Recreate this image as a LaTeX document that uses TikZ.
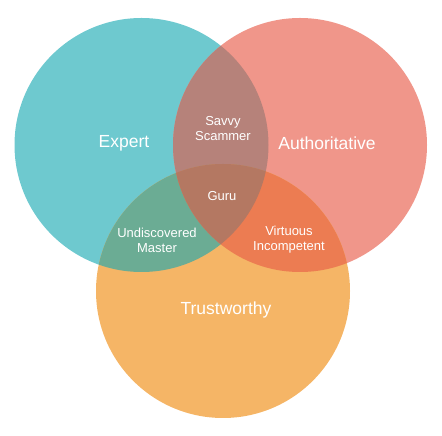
\documentclass[tikz,border=0pt]{standalone}
\usepackage{fontspec}
\setmainfont{Liberation Sans}
\definecolor{cteal}{HTML}{6EC9CF}
\definecolor{csalmon}{HTML}{F0968A}
\definecolor{corange}{HTML}{F5B566}
\definecolor{cts}{HTML}{B6827A}
\definecolor{cto}{HTML}{6BAC94}
\definecolor{cso}{HTML}{EC7C52}
\definecolor{call}{HTML}{B47862}
\tikzset{
  big/.style={text=white, font=\fontsize{17.5}{20}\selectfont, align=center},
  small/.style={text=white, font=\fontsize{13}{15}\selectfont, align=center},
}
\begin{document}
\begin{tikzpicture}[x=1pt,y=1pt]
\useasboundingbox (0,0) rectangle (442,436);
\def\R{127}
\coordinate (cT) at (141.5,291);
\coordinate (cS) at (300,291);
\coordinate (cO) at (223,145);
\fill[cteal] (cT) circle (\R);
\fill[csalmon] (cS) circle (\R);
\fill[corange] (cO) circle (\R);
\begin{scope}
  \clip (cT) circle (\R);
  \fill[cts] (cS) circle (\R);
  \fill[cto] (cO) circle (\R);
\end{scope}
\begin{scope}
  \clip (cS) circle (\R);
  \fill[cso] (cO) circle (\R);
  \clip (cT) circle (\R);
  \fill[call] (cO) circle (\R);
\end{scope}
\node[big] (expert) at (124,293) {Expert};
\node[big] (auth) at (327,293) {Authoritative};
\node[big] (trust) at (226,126) {Trustworthy};
\node[small] (savvy) at (223,307) {Savvy\\Scammer};
\node[small] (guru) at (222,240) {Guru};
\node[small] (undisc) at (157,196) {Undiscovered\\Master};
\node[small] (virt) at (289,196) {Virtuous\\Incompetent};
\end{tikzpicture}
\end{document}
